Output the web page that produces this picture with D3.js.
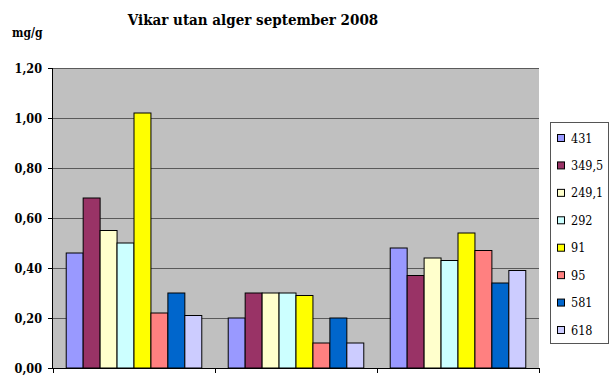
<!DOCTYPE html>
<html><head><meta charset="utf-8">
<script src="https://cdn.jsdelivr.net/npm/d3@7"></script>
<style>body{margin:0;background:#fff}svg{display:block}
svg text{font-family:'DejaVu Serif Condensed','DejaVu Serif',serif !important;font-stretch:condensed;}
</style>
</head><body>
<svg id="c" width="616" height="378"></svg>
<script>
const groups = ["A", "B", "C"];
const series = ["431", "349,5", "249,1", "292", "91", "95", "581", "618"];
const colors = ["#9999FF", "#993366", "#FFFFCC", "#CCFFFF", "#FFFF00", "#FF8080", "#0066CC", "#CCCCFF"];
const values = [
  [0.46, 0.68, 0.55, 0.50, 1.02, 0.22, 0.30, 0.21],
  [0.20, 0.30, 0.30, 0.30, 0.29, 0.10, 0.20, 0.10],
  [0.48, 0.37, 0.44, 0.43, 0.54, 0.47, 0.34, 0.39]
];
const yTicks = [0, 0.2, 0.4, 0.6, 0.8, 1.0, 1.2];

const svg = d3.select("#c");
const L = 53, R = 539, T = 68, B = 368;
const x = d3.scaleBand().domain(groups).range([L, R]).paddingInner(0).paddingOuter(0);
const xs = d3.scaleBand().domain(series).range([0, x.bandwidth()]).paddingOuter(0.78).paddingInner(0);
const y = d3.scaleLinear().domain([0, 1.2]).range([B, T]);
const fmt = v => d3.format(".2f")(v).replace(".", ",");

svg.append("rect").attr("x", L).attr("y", T).attr("width", R - L).attr("height", B - T)
  .attr("fill", "#C0C0C0");

svg.append("g").selectAll("line").data(yTicks.filter(d => d > 0)).join("line")
  .attr("x1", L).attr("x2", R).attr("y1", d => y(d)).attr("y2", d => y(d))
  .attr("stroke", "#5a5a5a").attr("stroke-width", 1).attr("shape-rendering", "crispEdges");

const g = svg.append("g").selectAll("g").data(values).join("g")
  .attr("transform", (d, i) => `translate(${x(groups[i])},0)`);
g.selectAll("rect").data(d => d.map((v, j) => ({v, j}))).join("rect")
  .attr("x", d => xs(series[d.j]))
  .attr("y", d => y(d.v))
  .attr("width", xs.bandwidth())
  .attr("height", d => B - y(d.v))
  .attr("fill", d => colors[d.j])
  .attr("stroke", "#000").attr("stroke-width", 1);

const ya = d3.axisLeft(y).tickValues(yTicks).tickFormat(fmt).tickSize(5).tickPadding(6);
const yg = svg.append("g").attr("transform", `translate(${L},0)`).call(ya);
yg.attr("font-family", null);
yg.select(".domain").attr("d", `M-0.5,${T}V${B}`).attr("stroke", "#000");
yg.selectAll(".tick line").attr("stroke", "#000");
yg.selectAll("text").attr("font-weight", "bold").attr("font-size", 12.5).attr("fill", "#000");

const xa = svg.append("g");
xa.append("line").attr("x1", L).attr("x2", R).attr("y1", B + 0.5).attr("y2", B + 0.5).attr("stroke", "#000");
xa.selectAll("line.t").data(groups.map(gr => x(gr)).concat([R])).join("line")
  .attr("class", "t").attr("x1", d => d + 0.5).attr("x2", d => d + 0.5)
  .attr("y1", B).attr("y2", B + 5).attr("stroke", "#000");

svg.append("text").attr("x", 253).attr("y", 25).attr("text-anchor", "middle")
  .attr("font-weight", "bold").attr("font-size", 15).text("Vikar utan alger september 2008");
svg.append("text").attr("x", 12).attr("y", 37)
  .attr("font-weight", "bold").attr("font-size", 12).text("mg/g");

const lg = svg.append("g");
lg.append("rect").attr("x", 550.5).attr("y", 122.5).attr("width", 58).attr("height", 221)
  .attr("fill", "#fff").attr("stroke", "#555");
const ly = d3.scalePoint().domain(series).range([138, 330]);
const items = lg.selectAll("g").data(series).join("g")
  .attr("transform", d => `translate(0,${ly(d)})`);
items.append("rect").attr("x", 557.5).attr("y", -3.5).attr("width", 7).attr("height", 7)
  .attr("fill", (d, i) => colors[i]).attr("stroke", "#000");
items.append("text").attr("x", 571).attr("y", 4.5).attr("font-size", 12.5)
  .text(d => d);
</script>
</body></html>
